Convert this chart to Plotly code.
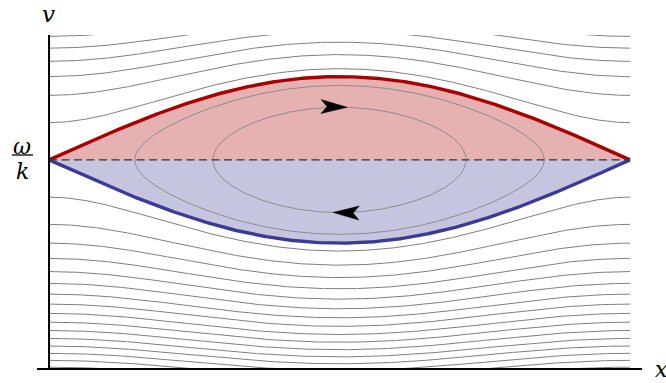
import numpy as np
import plotly.graph_objects as go

# Pendulum-like phase portrait of particles in a wave, x over one wavelength
# (0..1), velocity measured from the phase speed w/k and scaled so the
# separatrix half-width is 1.  H = u^2/2 - K cos(2*pi*x - pi)
K = 0.25
separatrix_level = 1.0                       # E/K on the separatrix
trapped_levels = [-0.2, 0.6]                 # E/K of the closed orbits drawn
upper_passing_levels = [1.4, 2.2, 3.0, 3.8, 4.6, 5.4]
lower_passing_levels = [1.4, 2.2, 3.0, 3.8, 4.6, 5.4, 6.2, 7.0,
                        7.8, 8.6, 9.4, 10.2, 11.0, 11.8, 12.6, 13.4]
x_range = [-0.0207, 1.0207]
v_range = [-2.5, 1.5]

W, H = 666, 383
M = dict(l=37, r=24, t=35, b=15)
plot_w = W - M["l"] - M["r"]
plot_h = H - M["t"] - M["b"]
px_x = plot_w / (x_range[1] - x_range[0])
px_v = plot_h / (v_range[1] - v_range[0])


def paper_xy(px, py):
    """Pixel position on the page -> paper coordinates."""
    return (px - M["l"]) / plot_w, (H - M["b"] - py) / plot_h


def speed(x, level):
    theta = 2 * np.pi * x - np.pi
    return np.sqrt(np.clip(2 * (level * K + K * np.cos(theta)), 0, None))


xs = np.linspace(0, 1, 600)
grey = "#7f7f7f"
fig = go.Figure()

# shaded trapping region
fig.add_trace(go.Scatter(x=xs, y=speed(xs, separatrix_level), mode="lines",
                         line=dict(width=0), fill="tozeroy",
                         fillcolor="#E5B1B1", hoverinfo="skip"))
fig.add_trace(go.Scatter(x=xs, y=-speed(xs, separatrix_level), mode="lines",
                         line=dict(width=0), fill="tozeroy",
                         fillcolor="#C5C5E0", hoverinfo="skip"))

# untrapped (passing) orbits
for lev in upper_passing_levels:
    fig.add_trace(go.Scatter(x=xs, y=speed(xs, lev), mode="lines",
                             line=dict(color=grey, width=1), hoverinfo="skip"))
for lev in lower_passing_levels:
    fig.add_trace(go.Scatter(x=xs, y=-speed(xs, lev), mode="lines",
                             line=dict(color=grey, width=1), hoverinfo="skip"))

# trapped (closed) orbits
s = np.linspace(0, np.pi, 300)
for lev in trapped_levels:
    half = np.arccos(-lev) / (2 * np.pi)
    xa = 0.5 - half * np.cos(s)
    xb = xa[::-1]
    xo = np.concatenate([xa, xb])
    vo = np.concatenate([speed(xa, lev), -speed(xb, lev)])
    fig.add_trace(go.Scatter(x=xo, y=vo, mode="lines",
                             line=dict(color="#8c8c8c", width=1),
                             hoverinfo="skip"))

# separatrix
fig.add_trace(go.Scatter(x=xs, y=speed(xs, separatrix_level), mode="lines",
                         line=dict(color="#AA0000", width=3.4), hoverinfo="skip"))
fig.add_trace(go.Scatter(x=xs, y=-speed(xs, separatrix_level), mode="lines",
                         line=dict(color="#3A3A98", width=3.4), hoverinfo="skip"))

# phase-velocity line v = w/k
fig.add_trace(go.Scatter(x=[0, 1], y=[0, 0], mode="lines",
                         line=dict(color="#333333", width=1.3, dash="8px,4.5px"),
                         hoverinfo="skip"))


# direction arrowheads on the inner trapped orbit
def arrowhead(x_tip, sign, direction):
    lev = trapped_levels[0]
    v_tip = sign * speed(np.array([x_tip]), lev)[0]
    dx = 1e-3 * direction
    v2 = sign * speed(np.array([x_tip - dx]), lev)[0]
    # orientation in pixel space
    ang = np.arctan2(-(v_tip - v2) * px_v, dx * px_x)
    pts = np.array([[0, 0], [-26, -7], [-20, 0], [-26, 7], [0, 0]], float)
    c, sn = np.cos(ang), np.sin(ang)
    rx = pts[:, 0] * c - pts[:, 1] * sn
    ry = pts[:, 0] * sn + pts[:, 1] * c
    fig.add_trace(go.Scatter(x=x_tip + rx / px_x, y=v_tip - ry / px_v,
                             mode="lines", fill="toself", fillcolor="black",
                             line=dict(color="black", width=0.5),
                             hoverinfo="skip"))


arrowhead(0.513, +1, +1)
arrowhead(0.489, -1, -1)

# vertical axis at x = 0
fig.add_shape(type="line", x0=0, x1=0, y0=v_range[0], y1=v_range[1],
              xref="x", yref="y", line=dict(color="black", width=2))

serif = "DejaVu Serif"


def label(text, px, py, size=22):
    ax, ay = paper_xy(px, py)
    fig.add_annotation(x=ax, y=ay, xref="paper", yref="paper", text=text,
                       showarrow=False, xanchor="center", yanchor="middle",
                       font=dict(family=serif, size=size, color="black"))


label("<i>v</i>", 48, 14, size=23)
label("<i>x</i>", 661, 369)
label("<i>ω</i>", 22, 146)
label("<i>k</i>", 22, 171)
bx0, by = paper_xy(12, 155)
bx1, _ = paper_xy(33, 155)
fig.add_shape(type="line", x0=bx0, x1=bx1, y0=by, y1=by,
              xref="paper", yref="paper", line=dict(color="black", width=1.3))

fig.update_layout(
    width=W, height=H, margin=M, showlegend=False,
    paper_bgcolor="white", plot_bgcolor="white",
    xaxis=dict(range=x_range, showgrid=False, zeroline=False,
               showticklabels=False, ticks="", showline=True,
               linecolor="black", linewidth=2),
    yaxis=dict(range=v_range, showgrid=False, zeroline=False,
               showticklabels=False, ticks="", showline=False),
)

fig.write_html("out.html")
